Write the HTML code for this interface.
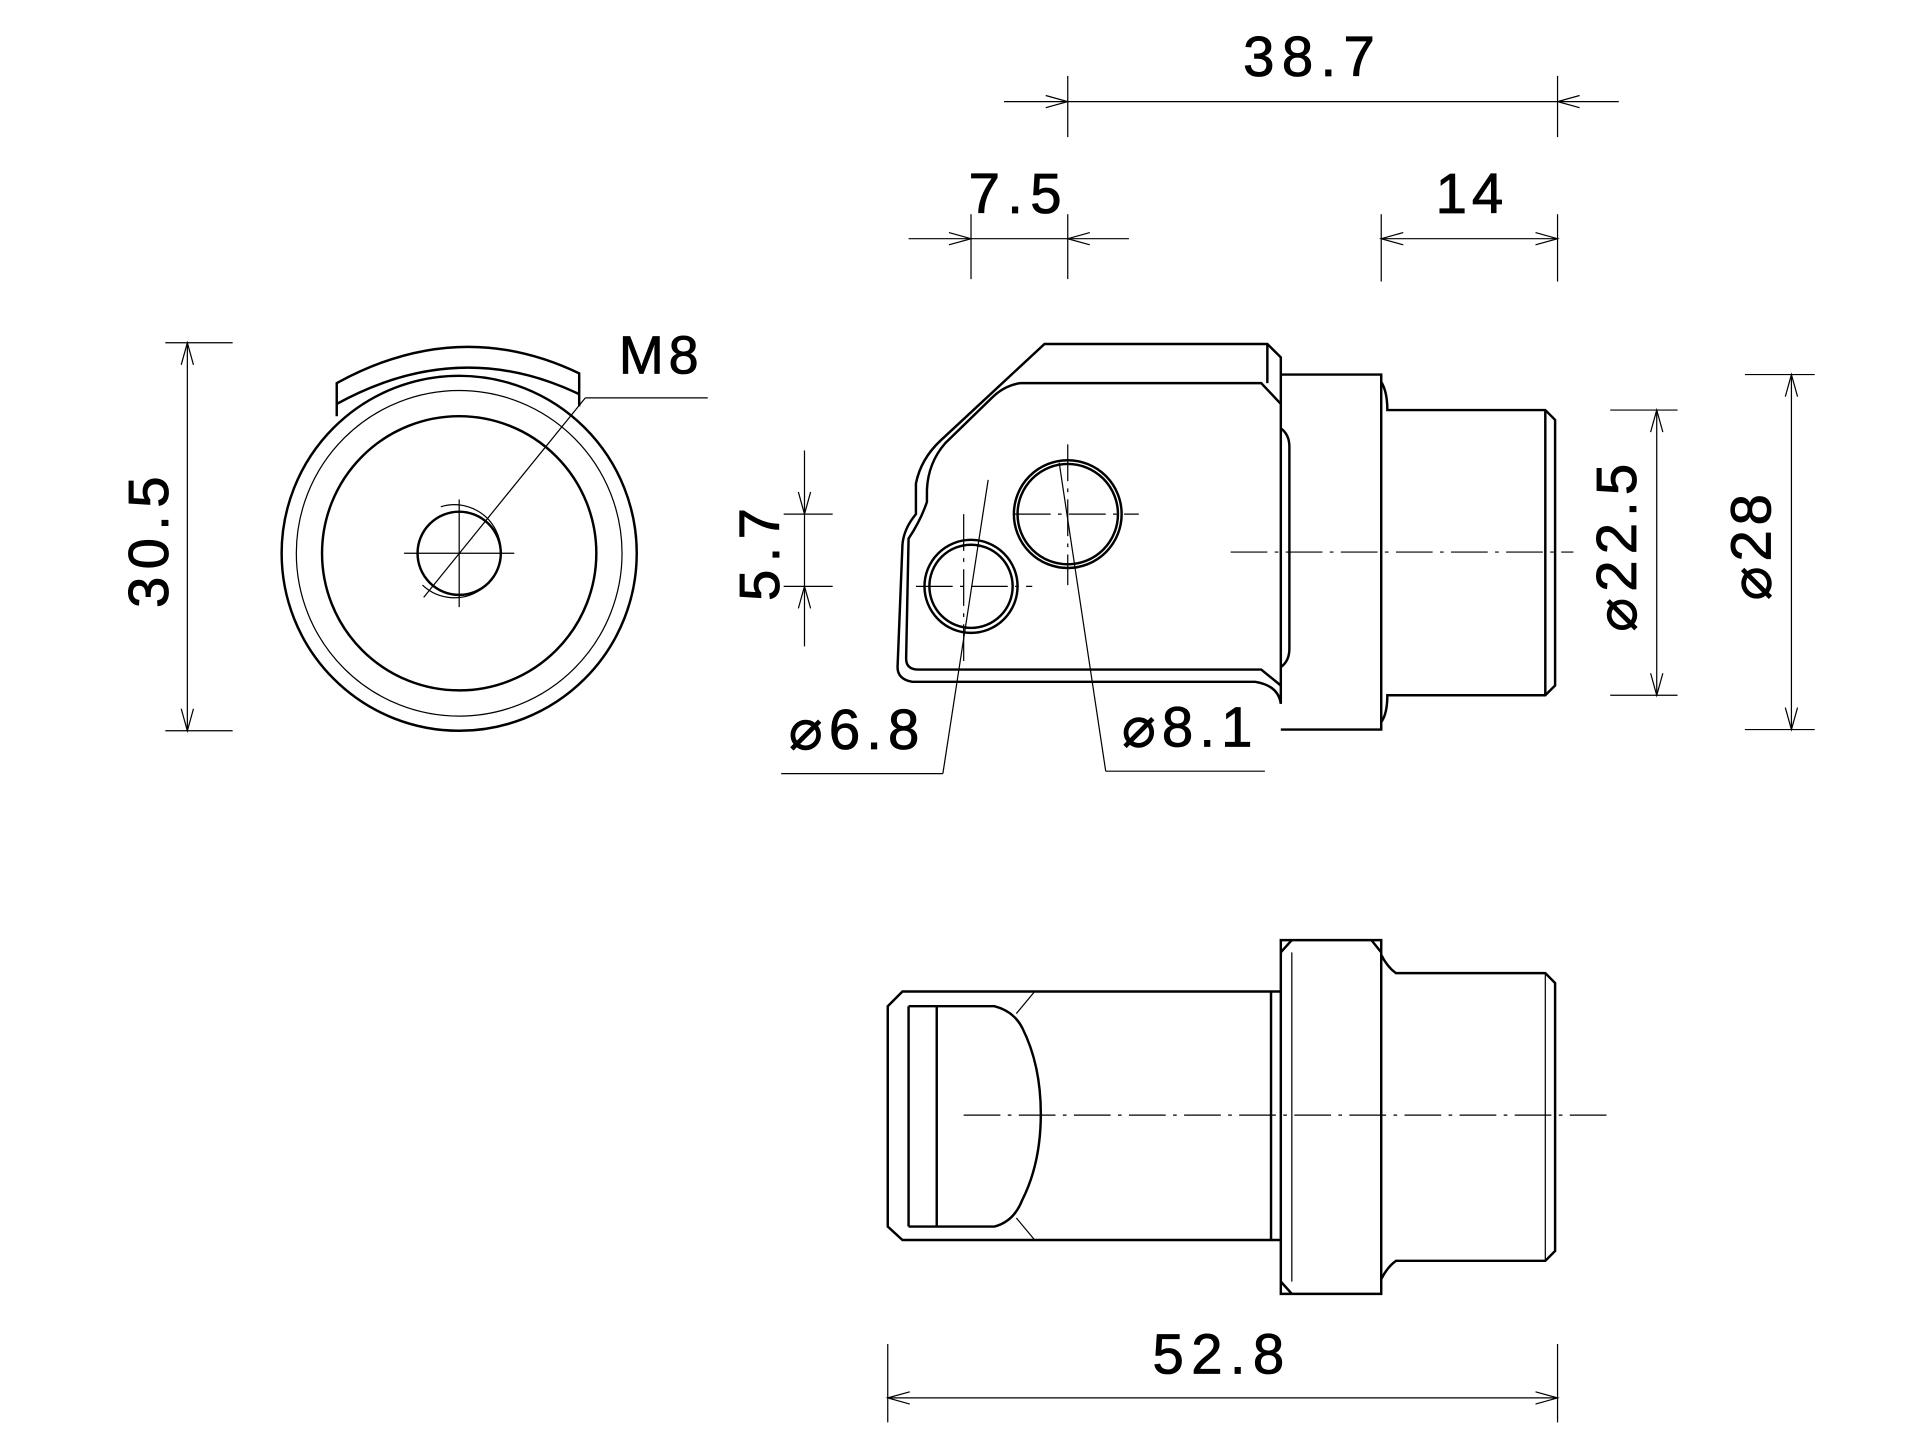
<!DOCTYPE html>
<html><head><meta charset="utf-8"><style>
html,body{margin:0;padding:0;background:#fff;}
svg{display:block;}
text{font-family:"Liberation Sans","DejaVu Sans",sans-serif;fill:#000;stroke:#000;stroke-width:0.7;}
</style></head><body>
<svg width="1920" height="1453" viewBox="0 0 1568 1187" preserveAspectRatio="none" xmlns="http://www.w3.org/2000/svg">
<g fill="none" stroke="#000" stroke-width="2">
<!-- LEFT VIEW -->
<path d="M275,340 L275,313 Q375,258 473,305 L473,332"/>
<path d="M275,330 Q375,275 473,322"/>
<circle cx="375" cy="452" r="145"/>
<circle cx="375" cy="452" r="133" stroke-width="1"/>
<circle cx="375" cy="452" r="112"/>
<circle cx="375" cy="452" r="34"/>
<path d="M360,414 A38,38 0 1,1 345,478" stroke-width="1"/>
</g>
<g fill="none" stroke="#000" stroke-width="1">
<line x1="330" y1="452" x2="420" y2="452"/>
<line x1="375" y1="408" x2="375" y2="496"/>
<line x1="346" y1="488" x2="478" y2="325"/>
<line x1="478" y1="325" x2="578" y2="325"/>
<line x1="153" y1="280" x2="153" y2="597"/>
<line x1="135" y1="280" x2="190" y2="280"/>
<line x1="135" y1="597" x2="190" y2="597"/>
<path d="M148,298 L153,280 L158,298 M148,579 L153,597 L158,579"/>
</g>
<text x="540" y="305" font-size="44" text-anchor="middle" letter-spacing="4">M8</text>
<text transform="translate(137,440) rotate(-90)" font-size="46" text-anchor="middle" letter-spacing="6">30.5</text>

<!-- SIDE VIEW -->
<g fill="none" stroke="#000" stroke-width="2">
<path d="M853,281 L1035,281 L1046,292 L1046,575 Q1044,560 1025,557 L745,557 Q733,555 733,545 L737,445 Q738,432 748,420 L748,395 Q752,375 768,360 Z"/>
<path d="M833,313 L1030,313 L1046,330"/>
<path d="M1035,281 L1035,313"/>
<path d="M833,313 Q820,315 810,325 L772,362 Q758,378 757,400 L757,410 Q752,425 742,440 L740,538 Q740,547 750,547 L1030,547 L1046,560"/>
<path d="M1046,350 Q1053,355 1053,365 L1053,530 Q1053,540 1046,545"/>
<path d="M1046,306 L1128,306 L1128,596 L1046,596"/>
<path d="M1128,312 Q1133,320 1133,335 L1262,335 L1270,343 L1270,560 L1262,568 L1133,568 Q1133,583 1128,590"/>
<path d="M1262,335 L1262,568"/>
<circle cx="872" cy="420" r="44"/>
<circle cx="872" cy="420" r="41"/>
<circle cx="793" cy="479" r="38"/>
<circle cx="793" cy="479" r="34"/>
</g>
<g fill="none" stroke="#000" stroke-width="1">
<line x1="1005" y1="451" x2="1285" y2="451" stroke-dasharray="30,6,3,6"/>
<line x1="828" y1="420" x2="930" y2="420" stroke-dasharray="30,6,3,6"/>
<line x1="748" y1="479" x2="843" y2="479" stroke-dasharray="30,6,3,6"/>
<line x1="872" y1="363" x2="872" y2="478" stroke-dasharray="30,6,3,6"/>
<line x1="787" y1="420" x2="787" y2="540" stroke-dasharray="30,6,3,6"/>
<line x1="807" y1="392" x2="770" y2="632"/>
<line x1="638" y1="632" x2="770" y2="632"/>
<line x1="865" y1="378" x2="903" y2="630"/>
<line x1="903" y1="630" x2="1033" y2="630"/>
<line x1="657" y1="368" x2="657" y2="528"/>
<line x1="640" y1="420" x2="680" y2="420"/>
<line x1="640" y1="479" x2="680" y2="479"/>
<path d="M652,402 L657,420 L662,402 M652,497 L657,479 L662,497"/>
<line x1="820" y1="83" x2="1322" y2="83"/>
<line x1="872" y1="62" x2="872" y2="112"/>
<line x1="1272" y1="62" x2="1272" y2="112"/>
<path d="M854,78 L872,83 L854,88 M1290,78 L1272,83 L1290,88"/>
<line x1="742" y1="195" x2="922" y2="195"/>
<line x1="793" y1="175" x2="793" y2="228"/>
<line x1="872" y1="175" x2="872" y2="228"/>
<path d="M775,190 L793,195 L775,200 M890,190 L872,195 L890,200"/>
<line x1="1128" y1="195" x2="1272" y2="195"/>
<line x1="1128" y1="175" x2="1128" y2="230"/>
<line x1="1272" y1="175" x2="1272" y2="230"/>
<path d="M1146,190 L1128,195 L1146,200 M1254,190 L1272,195 L1254,200"/>
<line x1="1353" y1="335" x2="1353" y2="568"/>
<line x1="1315" y1="335" x2="1370" y2="335"/>
<line x1="1315" y1="568" x2="1370" y2="568"/>
<path d="M1348,353 L1353,335 L1358,353 M1348,550 L1353,568 L1358,550"/>
<line x1="1463" y1="306" x2="1463" y2="596"/>
<line x1="1425" y1="306" x2="1482" y2="306"/>
<line x1="1425" y1="596" x2="1482" y2="596"/>
<path d="M1458,324 L1463,306 L1468,324 M1458,578 L1463,596 L1468,578"/>
</g>
<text x="1072" y="62" font-size="46" text-anchor="middle" letter-spacing="6">38.7</text>
<text x="832" y="174" font-size="46" text-anchor="middle" letter-spacing="6">7.5</text>
<text x="1202" y="174" font-size="46" text-anchor="middle" letter-spacing="4">14</text>
<text transform="translate(636,450) rotate(-90)" font-size="46" text-anchor="middle" letter-spacing="6">5.7</text>
<text x="700" y="612" font-size="46" text-anchor="middle" letter-spacing="5">⌀6.8</text>
<text x="972" y="610" font-size="46" text-anchor="middle" letter-spacing="5">⌀8.1</text>
<text transform="translate(1336,445) rotate(-90)" font-size="46" text-anchor="middle" letter-spacing="5">⌀22.5</text>
<text transform="translate(1446,445) rotate(-90)" font-size="46" text-anchor="middle" letter-spacing="4">⌀28</text>

<!-- BOTTOM VIEW -->
<g fill="none" stroke="#000" stroke-width="2">
<path d="M1046,810 L737,810 L725,822 L725,1002 L737,1013 L1046,1013"/>
<path d="M1046,768 L1128,768 L1128,1057 L1046,1057 Z"/>
<path d="M1055,768 L1046,778 M1046,1047 L1055,1057 M1120,768 L1128,778"/>
<path d="M1128,780 Q1133,790 1140,795 L1262,795 L1270,803 L1270,1022 L1262,1030 L1140,1030 Q1133,1035 1128,1045"/>
<path d="M742,822 L742,1002 M765,822 L765,1002"/>
<path d="M742,822 L812,822 Q828,826 835,840 Q850,870 850,910 Q850,950 835,980 Q828,998 812,1002 L742,1002"/>
<line x1="1038" y1="810" x2="1038" y2="1013"/>
<line x1="1055" y1="778" x2="1055" y2="1047" stroke-width="1"/>
</g>
<g fill="none" stroke="#000" stroke-width="1">
<line x1="830" y1="828" x2="845" y2="810"/>
<line x1="830" y1="995" x2="845" y2="1013"/>
<line x1="1262" y1="795" x2="1262" y2="1030"/>
<line x1="787" y1="911" x2="1315" y2="911" stroke-dasharray="30,6,3,6"/>
<line x1="725" y1="1142" x2="1272" y2="1142"/>
<line x1="725" y1="1098" x2="725" y2="1162"/>
<line x1="1272" y1="1098" x2="1272" y2="1162"/>
<path d="M743,1137 L725,1142 L743,1147 M1254,1137 L1272,1142 L1254,1147"/>
</g>
<text x="998" y="1122" font-size="46" text-anchor="middle" letter-spacing="6">52.8</text>
</svg>
</body></html>
